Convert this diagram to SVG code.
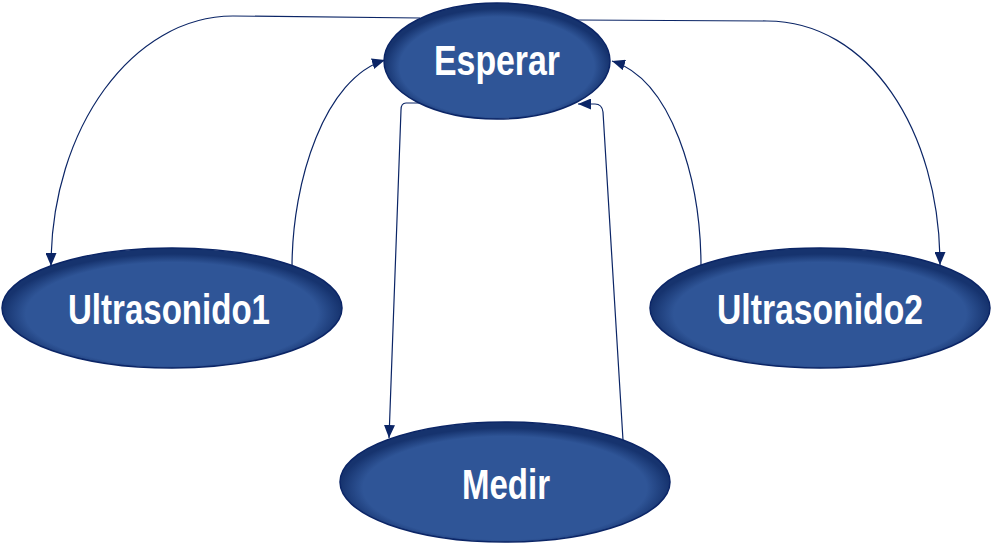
<svg xmlns="http://www.w3.org/2000/svg" width="991" height="543" viewBox="0 0 991 543">
<style>
.node ellipse{fill:url(#g);stroke:#0b2566;stroke-width:1.5}
.node text{font-family:"Liberation Sans",Arial,sans-serif;font-weight:bold;font-size:42px;fill:#ffffff;text-anchor:middle}
.conn path{fill:none;stroke:#0b2566;stroke-width:1.2;marker-end:url(#arr)}
</style>
<defs>
<radialGradient id="g" cx="50%" cy="55%" r="50%">
<stop offset="0" stop-color="#2f5597"/>
<stop offset="0.86" stop-color="#2f5597"/>
<stop offset="1" stop-color="#16336e"/>
</radialGradient>
<marker id="arr" markerUnits="userSpaceOnUse" markerWidth="14" markerHeight="11" refX="13" refY="5.5" orient="auto">
<path d="M0,0 L13,5.5 L0,11 z" fill="#0b2566"/>
</marker>
</defs>
<g id="connectors" class="conn">
<path d="M420 18 L233 16 C133 16 51 128 51 266"/>
<path d="M292 268 C292 180 325 78 385 60"/>
<path d="M425 103 L406 103 Q401 103 401 110 L389 438"/>
<path d="M623 440 L603 112 Q602 104 595 104 L578 104"/>
<path d="M701 267 C701 180 672 80 612 61"/>
<path d="M575 20 L767 21 C868 21 940 130 940 265"/>
</g>
<g id="esperar" class="node">
<ellipse cx="497" cy="61" rx="113" ry="58"/>
<text x="497" y="75" textLength="126" lengthAdjust="spacingAndGlyphs">Esperar</text>
</g>
<g id="ultrasonido1" class="node">
<ellipse cx="172" cy="308" rx="170" ry="60"/>
<text x="169" y="324" textLength="202" lengthAdjust="spacingAndGlyphs">Ultrasonido1</text>
</g>
<g id="medir" class="node">
<ellipse cx="505" cy="482" rx="165" ry="60"/>
<text x="506" y="499" textLength="88" lengthAdjust="spacingAndGlyphs">Medir</text>
</g>
<g id="ultrasonido2" class="node">
<ellipse cx="820" cy="308" rx="170" ry="60"/>
<text x="820" y="324" textLength="206" lengthAdjust="spacingAndGlyphs">Ultrasonido2</text>
</g>
</svg>
